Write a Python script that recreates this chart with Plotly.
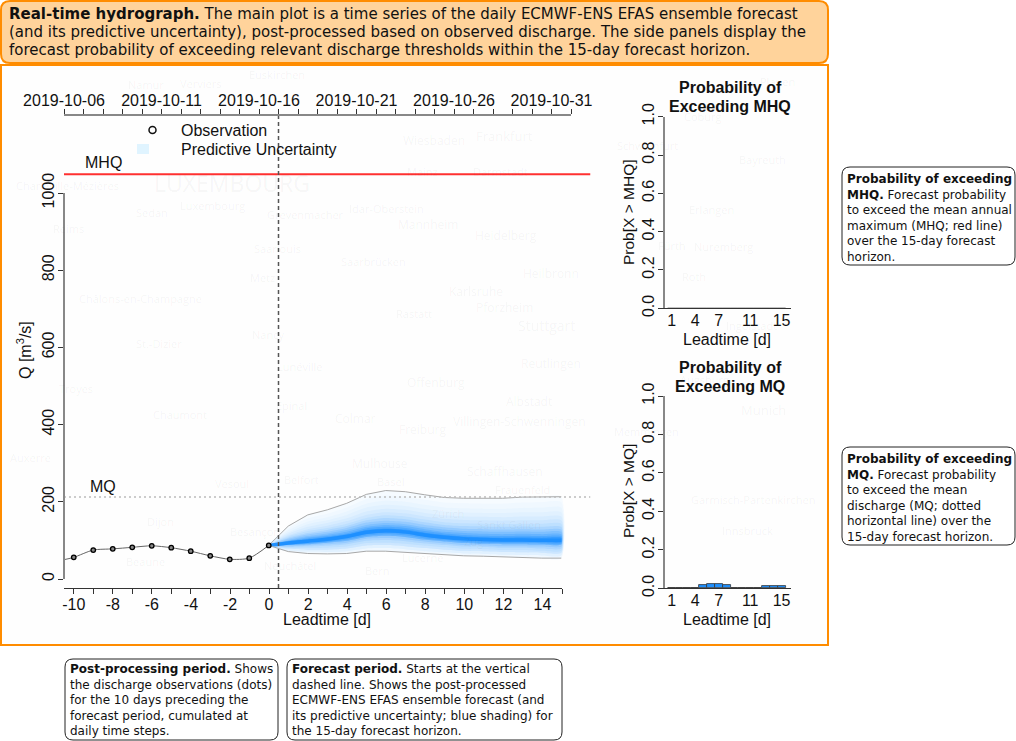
import plotly.graph_objects as go

W, H = 1016, 741

# ---------- data ----------
obs_lead = [-10, -9, -8, -7, -6, -5, -4, -3, -2, -1, 0]
obs_q = [56, 75, 78, 82, 86, 81, 72, 60, 51, 54, 87]
obs_line_lead = [-10.5, -10, -9, -8, -7, -6, -5, -4, -3, -2, -1, 0]
obs_line_q = [50, 56, 75, 78, 82, 86, 81, 72, 60, 51, 54, 87]

fc_lead = [0, 1, 2, 3, 4, 5, 6, 7, 8, 9, 10, 11, 12, 13, 14, 15]
q_upper = [87, 137, 166, 179, 196, 219, 229, 226, 218, 211, 209, 209, 209, 212, 213, 213]
q_u6x = [87, 131, 157, 169, 185, 207, 216, 213, 205, 198, 196, 195, 195, 198, 199, 199]
q_u6 = [87, 126, 149, 160, 175, 195, 203, 200, 192, 185, 183, 182, 182, 184, 185, 185]
q_u56 = [87, 121, 142, 152, 166, 185, 192, 189, 181, 175, 172, 171, 171, 173, 173, 173]
q_u5 = [87, 117, 135, 145, 157, 175, 182, 179, 171, 165, 162, 161, 160, 162, 162, 162]
q_u45 = [87, 113, 129, 138, 150, 166, 173, 170, 162, 156, 153, 152, 151, 152, 152, 152]
q_u4 = [87, 110, 124, 132, 143, 158, 165, 162, 154, 147, 144, 143, 142, 143, 143, 143]
q_u34 = [87, 107, 119, 127, 137, 152, 158, 155, 147, 140, 137, 136, 135, 136, 135, 135]
q_u3 = [87, 104, 115, 122, 132, 146, 151, 148, 140, 134, 130, 129, 128, 129, 128, 128]
q_u23 = [87, 101, 111, 118, 127, 140, 145, 142, 134, 128, 124, 123, 122, 123, 122, 122]
q_u2 = [87, 99, 108, 114, 122, 135, 140, 137, 129, 122, 119, 117, 116, 117, 116, 116]
q_u12 = [87, 98, 105, 111, 118, 131, 135, 132, 124, 118, 114, 112, 111, 112, 111, 111]
q_u1 = [87, 96, 102, 108, 115, 127, 131, 128, 120, 114, 110, 108, 107, 108, 107, 107]
q_med = [87, 93, 98, 103, 110, 121, 125, 122, 114, 108, 104, 102, 101, 101, 100, 100]
q_l1 = [87, 91, 95, 99, 106, 116, 120, 117, 109, 104, 100, 98, 97, 97, 95, 95]
q_l12 = [87, 89, 92, 96, 102, 112, 116, 113, 105, 100, 96, 94, 93, 93, 92, 92]
q_l2 = [87, 88, 90, 94, 99, 109, 112, 109, 102, 97, 93, 91, 90, 90, 89, 89]
q_l23 = [87, 85, 87, 90, 94, 104, 106, 103, 97, 92, 88, 87, 85, 85, 84, 84]
q_l3 = [87, 83, 84, 86, 90, 99, 101, 98, 92, 88, 84, 83, 81, 81, 79, 79]
q_l34 = [87, 80, 80, 81, 84, 93, 94, 91, 86, 82, 78, 77, 75, 75, 73, 73]
q_l4 = [87, 78, 76, 76, 79, 87, 88, 85, 80, 76, 73, 72, 70, 69, 68, 68]
q_l4x = [87, 74, 71, 70, 72, 79, 80, 77, 72, 69, 66, 65, 63, 62, 61, 61]
q_lower = [87, 71, 66, 65, 66, 72, 72, 69, 65, 63, 60, 59, 57, 56, 54, 54]

mhq = 1048
mq = 212

prob_lead = [1, 2, 3, 4, 5, 6, 7, 8, 9, 10, 11, 12, 13, 14, 15]
prob_mhq = [0, 0, 0, 0, 0, 0, 0, 0, 0, 0, 0, 0, 0, 0, 0]
prob_mq = [0, 0, 0, 0, 0.015, 0.02, 0.02, 0.015, 0, 0, 0, 0, 0.01, 0.01, 0.01]

main_ticks = [-10, -9, -8, -7, -6, -5, -4, -3, -2, -1, 0, 1, 2, 3, 4, 5, 6, 7, 8, 9, 10, 11, 12, 13, 14, 15]
main_labels = ["-10", "", "-8", "", "-6", "", "-4", "", "-2", "", "0", "", "2", "", "4", "", "6", "", "8", "", "10", "", "12", "", "14", ""]
date_ticks = ["2019-10-%02d" % d for d in range(6, 32)] + ["2019-11-01"]
date_labels = ["2019-10-06", "", "", "", "", "2019-10-11", "", "", "", "", "2019-10-16", "", "", "", "",
               "2019-10-21", "", "", "", "", "2019-10-26", "", "", "", "", "2019-10-31", ""]
q_ticks = [0, 200, 400, 600, 800, 1000]
prob_ticks = [0, 0.2, 0.4, 0.6, 0.8, 1.0]
prob_tick_text = ["0.0", "0.2", "0.4", "0.6", "0.8", "1.0"]
lead_ticks = [1, 4, 7, 11, 15]

band_pairs = [
    (q_upper, q_lower, "#f6fbff"),
    (q_u6x, q_lower, "#f0f8ff"),
    (q_u6, q_l4x, "#e9f5ff"),
    (q_u56, q_l4x, "#e1f1ff"),
    (q_u5, q_l4, "#d7ecff"),
    (q_u45, q_l4, "#cce6ff"),
    (q_u4, q_l34, "#bee0ff"),
    (q_u34, q_l3, "#acd6ff"),
    (q_u3, q_l23, "#96cbff"),
    (q_u23, q_l2, "#7fc0ff"),
    (q_u2, q_l2, "#67b4ff"),
    (q_u12, q_l12, "#4ea8ff"),
    (q_u1, q_l1, "#379cff"),
]

map_labels = [
    ("LUXEMBOURG", 232, 183, 23), ("Namur", 146, 85, 11), ("Verviers", 200, 84, 11), ("Euskirchen", 277, 74, 11),
    ("Charleville-Mézières", 67, 185, 11), ("Luxembourg", 212, 206, 11), ("Sedan", 152, 212, 11),
    ("Reims", 68, 229, 11), ("Grevenmacher", 305, 214, 11), ("Saarlouis", 277, 249, 11),
    ("Wiesbaden", 434, 140, 12), ("Frankfurt", 504, 136, 13), ("Mainz", 422, 171, 11), ("Darmstadt", 500, 171, 11),
    ("Idar-Oberstein", 386, 208, 11), ("Mannheim", 428, 225, 12), ("Heidelberg", 506, 235, 12),
    ("Saarbrücken", 373, 261, 11), ("Heilbronn", 551, 273, 12), ("Karlsruhe", 476, 291, 12),
    ("Pforzheim", 504, 307, 12), ("Rastatt", 414, 313, 11), ("Stuttgart", 546, 325, 14),
    ("Reutlingen", 551, 363, 12), ("Offenburg", 436, 382, 12), ("Albstadt", 529, 401, 12),
    ("Villingen-Schwenningen", 519, 421, 12), ("Freiburg", 422, 429, 12), ("Colmar", 355, 418, 12),
    ("Mulhouse", 380, 463, 12), ("Schaffhausen", 505, 471, 12),
    ("Châlons-en-Champagne", 140, 299, 11), ("St.-Dizier", 159, 343, 11), ("Chaumont", 180, 415, 11),
    ("Metz", 262, 277, 11), ("Nancy", 268, 335, 11), ("Lunéville", 299, 366, 11), ("Épinal", 291, 405, 11),
    ("Troyes", 76, 389, 11), ("Dijon", 160, 521, 11), ("Beaune", 145, 561, 11), ("Besançon", 255, 531, 11),
    ("Belfort", 301, 479, 11), ("Vesoul", 232, 483, 11), ("Neuchâtel", 290, 565, 11), ("Basel", 390, 481, 11),
    ("Zürich", 448, 513, 11), ("Sankt Gallen", 509, 524, 11), ("Zug", 473, 541, 11), ("Lucerne", 422, 557, 11),
    ("Bern", 377, 570, 11), ("Frauenfeld", 522, 489, 11), ("Auxerre", 30, 458, 11),
    ("Coburg", 703, 116, 11), ("Plauen", 777, 81, 11), ("Bayreuth", 762, 159, 11), ("Schweinfurt", 647, 146, 11),
    ("Erlangen", 711, 209, 11), ("Nuremberg", 723, 247, 11), ("Fürth", 672, 245, 11), ("Roth", 694, 276, 11),
    ("Ingolstadt", 751, 325, 11), ("Augsburg", 704, 379, 11), ("Munich", 763, 410, 13),
    ("Memmingen", 646, 431, 11), ("Garmisch-Partenkirchen", 753, 499, 11), ("Innsbruck", 747, 530, 11),
]


def px(x):
    return x / W


def py(y):
    return 1 - y / H


def rounded(x0, y0, x1, y1, r):
    xs = [px(x0), px(x0 + r), px(x1 - r), px(x1)]
    ys = [py(y0), py(y0 + r), py(y1 - r), py(y1)]
    return (f"M {xs[1]} {ys[0]} L {xs[2]} {ys[0]} Q {xs[3]} {ys[0]} {xs[3]} {ys[1]} "
            f"L {xs[3]} {ys[2]} Q {xs[3]} {ys[3]} {xs[2]} {ys[3]} "
            f"L {xs[1]} {ys[3]} Q {xs[0]} {ys[3]} {xs[0]} {ys[2]} "
            f"L {xs[0]} {ys[1]} Q {xs[0]} {ys[0]} {xs[1]} {ys[0]} Z")


def box(x0, y0, x1, y1, r, line, fill, width):
    return dict(type="path", xref="paper", yref="paper", path=rounded(x0, y0, x1, y1, r),
                line=dict(color=line, width=width), fillcolor=fill, layer="below")


def note(x, y, text, size, font="DejaVu Sans"):
    return dict(xref="paper", yref="paper", x=px(x), y=py(y), xanchor="left", yanchor="top", align="left",
                showarrow=False, text=text, font=dict(family=font, size=size, color="#111111"),
                borderpad=0, borderwidth=0)


def plain(x, y, text, size, weight=None, angle=0):
    t = f"<b>{text}</b>" if weight else text
    return dict(xref="paper", yref="paper", x=px(x), y=py(y), xanchor="center", yanchor="middle",
                showarrow=False, text=t, textangle=angle, align="center",
                font=dict(family="Liberation Sans", size=size, color="#111111"))


fig = go.Figure()

# forecast shading
for hi, lo, col in band_pairs:
    fig.add_trace(go.Scatter(x=fc_lead + fc_lead[::-1], y=hi + lo[::-1], mode="lines", fill="toself",
                             fillcolor=col, line=dict(width=0, shape="spline", smoothing=0.6),
                             hoverinfo="skip", showlegend=False))
fig.add_trace(go.Scatter(x=fc_lead, y=q_med, mode="lines", line=dict(color="#1e90ff", width=3.5, shape="spline", smoothing=0.6),
                         hoverinfo="skip", showlegend=False))
for env in (q_upper, q_lower):
    fig.add_trace(go.Scatter(x=fc_lead, y=env, mode="lines", line=dict(color="#a8a8a8", width=1),
                             hoverinfo="skip", showlegend=False))
# thresholds
line_x = [-10.5, 16.5]
fig.add_trace(go.Scatter(x=line_x, y=[mhq, mhq], mode="lines", line=dict(color="#ff3030", width=2),
                         hoverinfo="skip", showlegend=False))
fig.add_trace(go.Scatter(x=line_x, y=[mq, mq], mode="lines", line=dict(color="#bcbcbc", width=1.5, dash="2px,3px"),
                         hoverinfo="skip", showlegend=False))
# observations
fig.add_trace(go.Scatter(x=obs_line_lead, y=obs_line_q, mode="lines", line=dict(color="#666666", width=1, shape="spline", smoothing=0.7),
                         hoverinfo="skip", showlegend=False))
fig.add_trace(go.Scatter(x=obs_lead, y=obs_q, mode="markers",
                         marker=dict(size=4.5, color="#888888", line=dict(color="#000000", width=1.3)),
                         hoverinfo="skip", showlegend=False))

# carriers for the visible axes
fig.add_trace(go.Scatter(x=[None], y=[None], xaxis="x2", yaxis="y", showlegend=False, hoverinfo="skip"))
fig.add_trace(go.Scatter(x=[None], y=[None], xaxis="x3", yaxis="y", showlegend=False, hoverinfo="skip"))
fig.add_trace(go.Scatter(x=[None], y=[None], xaxis="x", yaxis="y2", showlegend=False, hoverinfo="skip"))

# probability bars
bar_style = dict(color="#1e90ff", line=dict(color="#333333", width=0.8))
fig.add_trace(go.Bar(x=prob_lead, y=prob_mhq, width=1, marker=bar_style, xaxis="x4", yaxis="y4", hoverinfo="skip", showlegend=False))
fig.add_trace(go.Bar(x=prob_lead, y=prob_mq, width=1, marker=bar_style, xaxis="x5", yaxis="y5", hoverinfo="skip", showlegend=False))

MAIN_L, MAIN_R, MAIN_T, MAIN_B = 64, 590.5, 116, 588
tick_font = dict(family="Liberation Sans", size=16, color="#111111")


def prob_x(anchor):
    return dict(domain=[px(660), px(791)], range=[-0.49, 16.2], anchor=anchor, showline=True, linecolor="#333333", linewidth=1,
                ticks="", tickvals=lead_ticks, tickfont=tick_font, ticklabelstandoff=-3, showgrid=False, zeroline=False, fixedrange=True)


def prob_y(top, bottom):
    return dict(domain=[py(bottom), py(top)], range=[0, 1], anchor="free", position=px(664), side="left",
                showline=True, linecolor="#888888", linewidth=1.5, ticks="outside", ticklen=5, tickcolor="#333333",
                tickvals=prob_ticks, ticktext=prob_tick_text, tickangle=-90, tickfont=tick_font, ticklabelstandoff=-2,
                showgrid=False, zeroline=False, fixedrange=True)


fig.update_layout(
    width=W, height=H, autosize=False, margin=dict(l=0, r=0, t=0, b=0, pad=0, autoexpand=False),
    paper_bgcolor="#ffffff", plot_bgcolor="rgba(0,0,0,0)", showlegend=False, bargap=0,
    xaxis=dict(domain=[px(MAIN_L), px(MAIN_R)], range=[-10.5, 16.5], visible=False, fixedrange=True),
    yaxis=dict(domain=[py(MAIN_B), py(MAIN_T)], range=[-23.3, 1198.6], visible=False, fixedrange=True),
    xaxis2=dict(domain=[px(MAIN_L), px(562)], range=[-10.5, 15], anchor="y", side="bottom", showline=True,
                linecolor="#333333", linewidth=1, ticks="outside", ticklen=5, tickcolor="#333333", ticklabelstandoff=-3,
                tickvals=main_ticks, ticktext=main_labels, tickfont=tick_font, showgrid=False, zeroline=False, fixedrange=True),
    xaxis3=dict(domain=[px(MAIN_L), px(571)], type="date", range=["2019-10-06", "2019-11-01"], anchor="y", side="top",
                showline=True, linecolor="#888888", linewidth=2, ticks="outside", ticklen=5, tickcolor="#333333", ticklabelstandoff=-3,
                tickvals=date_ticks, ticktext=date_labels, tickangle=0, tickfont=tick_font, showgrid=False, zeroline=False, fixedrange=True),
    yaxis2=dict(domain=[py(579), py(193)], range=[0, 1000], anchor="free", position=px(64), side="left",
                showline=True, linecolor="#888888", linewidth=1.5, ticks="outside", ticklen=5, tickcolor="#333333", ticklabelstandoff=-2,
                tickvals=q_ticks, tickangle=-90, tickfont=tick_font, showgrid=False, zeroline=False, fixedrange=True),
    xaxis4=prob_x("y4"), yaxis4=prob_y(116.7, 308.3),
    xaxis5=prob_x("y5"), yaxis5=prob_y(396, 588.3),
)

shapes = [
    box(1, 1, 828, 63, 9, "#ff8c00", "#ffd39b", 2),
    dict(type="rect", xref="paper", yref="paper", x0=px(1), x1=px(828), y0=py(645), y1=py(65),
         line=dict(color="#ff8c00", width=2), fillcolor="#fefefe", layer="below"),
    box(842, 167, 1015, 265, 8, "#222222", "#ffffff", 1),
    box(842, 447, 1015, 545, 8, "#222222", "#ffffff", 1),
    box(65, 659, 278, 740, 8, "#222222", "#ffffff", 1),
    box(287, 659, 562, 740, 8, "#222222", "#ffffff", 1),
    # forecast start line
    dict(type="line", xref="x", yref="y domain", x0=0.5, x1=0.5, y0=0, y1=1,
         line=dict(color="#555555", width=1.5, dash="4px,3px"), layer="above"),
    # legend swatch
    dict(type="rect", xref="paper", yref="paper", x0=px(137), x1=px(149), y0=py(154), y1=py(144),
         line=dict(width=0), fillcolor="#e0f4ff", layer="above"),
    dict(type="circle", xref="paper", yref="paper", x0=px(149), x1=px(156), y0=py(133.5), y1=py(126.5),
         line=dict(color="#111111", width=1.5), fillcolor="rgba(255,255,255,0)", layer="above"),
]

annotations = []
for name, x, y, size in map_labels:
    annotations.append(dict(xref="paper", yref="paper", x=px(x), y=py(y), xanchor="center", yanchor="middle",
                            showarrow=False, text=name,
                            font=dict(family="Open Sans", size=size, color="rgba(60,60,60,0.05)")))

annotations += [
    note(9, 5, "<b>Real-time hydrograph.</b> The main plot is a time series of the daily ECMWF-ENS EFAS ensemble forecast", 15),
    note(9, 23, "(and its predictive uncertainty), post-processed based on observed discharge. The side panels display the", 15),
    note(9, 41, "forecast probability of exceeding relevant discharge thresholds within the 15-day forecast horizon.", 15),
    note(847, 172, "<b>Probability of exceeding<br>MHQ.</b> Forecast probability<br>to exceed the mean annual<br>"
                   "maximum (MHQ; red line)<br>over the 15-day forecast<br>horizon.", 12),
    note(847, 452, "<b>Probability of exceeding<br>MQ.</b> Forecast probability<br>to exceed the mean<br>"
                   "discharge (MQ; dotted<br>horizontal line) over the<br>15-day forecast horizon.", 12),
    note(70, 662, "<b>Post-processing period.</b> Shows<br>the discharge observations (dots)<br>for the 10 days preceding the<br>"
                  "forecast period, cumulated at<br>daily time steps.", 12),
    note(292, 662, "<b>Forecast period.</b> Starts at the vertical<br>dashed line. Shows the post-processed<br>"
                   "ECMWF-ENS EFAS ensemble forecast (and<br>its predictive uncertainty; blue shading) for<br>the 15-day forecast horizon.", 12),
    plain(224, 130.5, "Observation", 16),
    plain(258.5, 149, "Predictive Uncertainty", 16),
    plain(103, 163, "MHQ", 16),
    plain(103, 486, "MQ", 16),
    plain(327, 619, "Leadtime [d]", 16),
    plain(24, 350, "Q [m<sup>3</sup>/s]", 16, angle=-90),
    plain(730, 87, "Probability of", 16, weight=True),
    plain(730, 106, "Exceeding MHQ", 16, weight=True),
    plain(730, 367, "Probability of", 16, weight=True),
    plain(730, 386, "Exceeding MQ", 16, weight=True),
    plain(628, 212, "Prob[X &gt; MHQ]", 15.5, angle=-90),
    plain(628, 491, "Prob[X &gt; MQ]", 15.5, angle=-90),
    plain(727, 339, "Leadtime [d]", 16),
    plain(727, 619, "Leadtime [d]", 16),
]

fig.update_layout(shapes=shapes, annotations=annotations)
fig.write_html("out.html", config=dict(displayModeBar=False),
               post_script="document.body.style.margin='0';document.body.style.overflow='hidden';")
